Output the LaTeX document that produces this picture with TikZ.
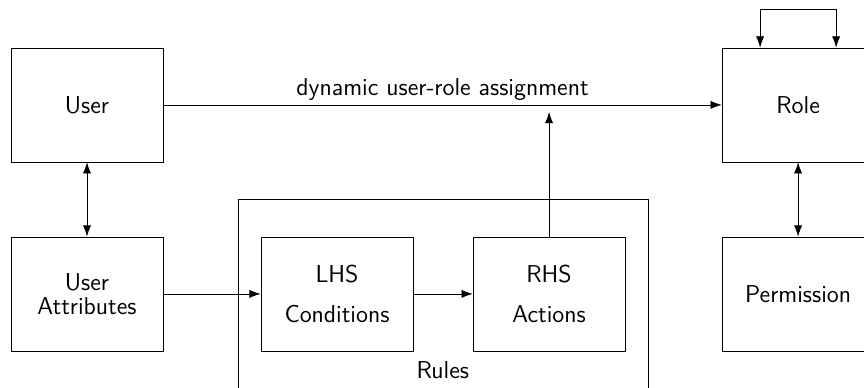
\documentclass[tikz,border=0pt]{standalone}
\usetikzlibrary{arrows.meta}

\begin{document}
\begin{tikzpicture}[
    font=\sffamily\fontsize{13.7pt}{13.5pt}\selectfont,
    box/.style={draw, minimum width=3cm, minimum height=2.25cm, align=center, inner sep=0pt},
    >={Latex[length=2.2mm,width=1.6mm]}
]
    \useasboundingbox (0,0) rectangle (17.05,-7.64);
    \clip (0,0) rectangle (17.05,-7.64);
    \draw (4.70,-3.93) rectangle (12.79,-8);
    \node (rules) at (8.74,-7.30) {Rules};
    \node[box] (user) at (1.717,-2.07) {User};
    \node[box] (attr) at (1.717,-5.80) {User\\Attributes};
    \node[box] (lhs) at (6.65,-5.80) {LHS\\[9pt]Conditions};
    \node[box] (rhs) at (10.835,-5.80) {RHS\\[9pt]Actions};
    \node[box] (role) at (15.75,-2.07) {Role};
    \node[box] (perm) at (15.75,-5.80) {Permission};
    \coordinate (up) at (10.835,-2.21);
    \draw[->] (user) -- node[above, inner sep=2pt] {dynamic user-role assignment} (role);
    \draw[<->] (user) -- (attr);
    \draw[->] (attr) -- (lhs);
    \draw[->] (lhs) -- (rhs);
    \draw[->] (rhs) -- (up);
    \draw[<->] (role) -- (perm);
    \draw[<->] ([xshift=-0.75cm]role.north) -- ++(0,0.75) -| ([xshift=0.75cm]role.north);
\end{tikzpicture}
\end{document}
